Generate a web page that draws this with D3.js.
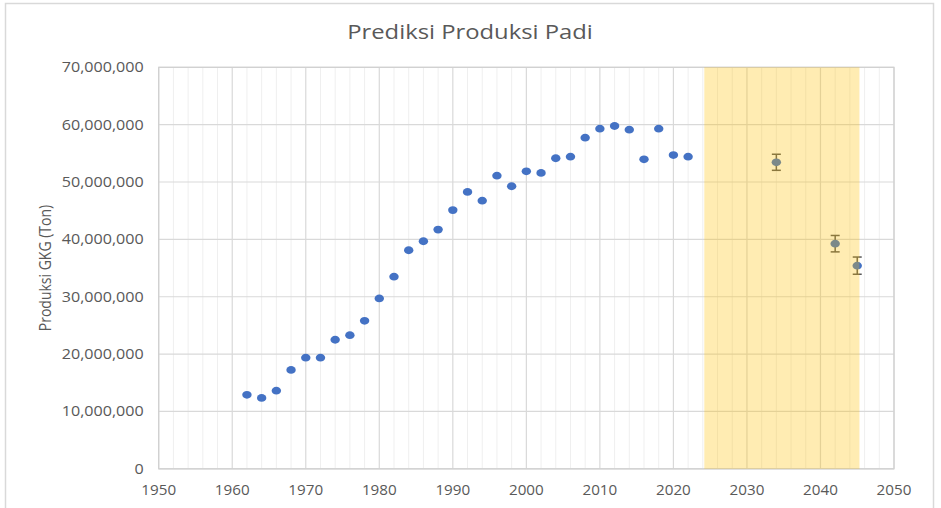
<!DOCTYPE html>
<html><head><meta charset="utf-8">
<script src="https://cdn.jsdelivr.net/npm/d3@7"></script>
<style>
html,body{margin:0;padding:0;background:#fff;}
svg{display:block;}
text{font-family:"Open Sans","Noto Sans",sans-serif;fill:#595959;}
</style></head>
<body>
<svg id="c" width="941" height="508"></svg>
<script>
const years = [1962,1964,1966,1968,1970,1972,1974,1976,1978,1980,1982,1984,1986,1988,1990,1992,1994,1996,1998,2000,2002,2004,2006,2008,2010,2012,2014,2016,2018,2020,2022];
const production = [12.9,12.35,13.62,17.23,19.38,19.38,22.5,23.3,25.8,29.7,33.5,38.1,39.67,41.7,45.1,48.27,46.75,51.1,49.26,51.87,51.58,54.14,54.42,57.73,59.3,59.77,59.13,53.96,59.3,54.7,54.42].map(v=>v*1e6);
const predYears = [2034,2042,2045];
const predValues = [53.44,39.25,35.42].map(v=>v*1e6);
const predErr = [1.4,1.43,1.5].map(v=>v*1e6);
const bandYears = [2024.2,2045.3];
const xTicks = [1950,1960,1970,1980,1990,2000,2010,2020,2030,2040,2050];
const yTicks = [0,10e6,20e6,30e6,40e6,50e6,60e6,70e6];
const title = "Prediksi Produksi Padi";
const yLabel = "Produksi GKG (Ton)";

const svg = d3.select("#c");
const L=158.7, R=894, T=67.3, B=468.8;
const x = d3.scaleLinear().domain([1950,2050]).range([L,R]);
const y = d3.scaleLinear().domain([0,70e6]).range([B,T]);

// outer chart border
svg.append("rect").attr("x",5.5).attr("y",3.5).attr("width",928).attr("height",520)
  .attr("fill","#fff").attr("stroke","#d9d9d9").attr("stroke-width",1.5);

// minor vertical gridlines
const minor = d3.range(1950,2051,2).filter(v=>v%10!==0);
svg.append("g").selectAll("line").data(minor).join("line")
  .attr("x1",d=>x(d)).attr("x2",d=>x(d)).attr("y1",T).attr("y2",B)
  .attr("stroke","#efefef").attr("stroke-width",1);
// major vertical
svg.append("g").selectAll("line").data(xTicks).join("line")
  .attr("x1",d=>x(d)).attr("x2",d=>x(d)).attr("y1",T).attr("y2",B)
  .attr("stroke","#d9d9d9").attr("stroke-width",1.2);
// major horizontal
svg.append("g").selectAll("line").data(yTicks).join("line")
  .attr("x1",L).attr("x2",R).attr("y1",d=>y(d)).attr("y2",d=>y(d))
  .attr("stroke","#d9d9d9").attr("stroke-width",1.2);
// plot border
svg.append("rect").attr("x",L).attr("y",T).attr("width",R-L).attr("height",B-T)
  .attr("fill","none").attr("stroke","#d0d0d0").attr("stroke-width",1.2);

// axes (labels only)
const xAxis = d3.axisBottom(x).tickValues(xTicks).tickFormat(d3.format("d")).tickSize(0).tickPadding(26);
const gx = svg.append("g").attr("transform",`translate(0,${B})`).call(xAxis);
gx.select(".domain").remove();
gx.selectAll("text").style("font-size","14.5px").attr("fill","#595959").attr("dy","0")
  .attr("transform","scale(1.05,1)").attr("x",0);
gx.selectAll(".tick").each(function(d){ d3.select(this).attr("transform",`translate(${x(d)},0)`); });

const yAxis = d3.axisLeft(y).tickValues(yTicks).tickFormat(d3.format(",")).tickSize(0).tickPadding(15);
const gy = svg.append("g").attr("transform",`translate(${L},0)`).call(yAxis);
gy.select(".domain").remove();
gy.selectAll("text").style("font-size","14px").attr("fill","#595959")
  .attr("x",-15/1.15).attr("transform","scale(1.15,1)");

// historical points
svg.append("g").selectAll("ellipse").data(years).join("ellipse")
  .attr("cx",d=>x(d)).attr("cy",(d,i)=>y(production[i])).attr("rx",4.7).attr("ry",3.9)
  .attr("fill","#4472c4");

// prediction points with error bars
const pg = svg.append("g");
predYears.forEach((yr,i)=>{
  const cx=x(yr), lo=y(predValues[i]-predErr[i]), hi=y(predValues[i]+predErr[i]);
  pg.append("line").attr("x1",cx).attr("x2",cx).attr("y1",lo).attr("y2",hi).attr("stroke","#595959").attr("stroke-width",1.5);
  pg.append("line").attr("x1",cx-4.5).attr("x2",cx+4.5).attr("y1",lo).attr("y2",lo).attr("stroke","#595959").attr("stroke-width",1.5);
  pg.append("line").attr("x1",cx-4.5).attr("x2",cx+4.5).attr("y1",hi).attr("y2",hi).attr("stroke","#595959").attr("stroke-width",1.5);
  pg.append("ellipse").attr("cx",cx).attr("cy",y(predValues[i])).attr("rx",4.7).attr("ry",3.9).attr("fill","#4472c4");
});

// highlight band (semi-transparent on top)
svg.append("rect").attr("x",x(bandYears[0])).attr("y",T).attr("width",x(bandYears[1])-x(bandYears[0])).attr("height",B-T)
  .attr("fill","#ffc000").attr("opacity",0.3);

// title
svg.append("text").attr("transform","translate(470,39) scale(1.19,1)").attr("text-anchor","middle")
  .style("font-size","20px").text(title);
// y label
svg.append("text").attr("transform",`translate(51,268) scale(1.15,1) rotate(-90)`).attr("text-anchor","middle")
  .style("font-size","14px").text(yLabel);
</script>
</body></html>
